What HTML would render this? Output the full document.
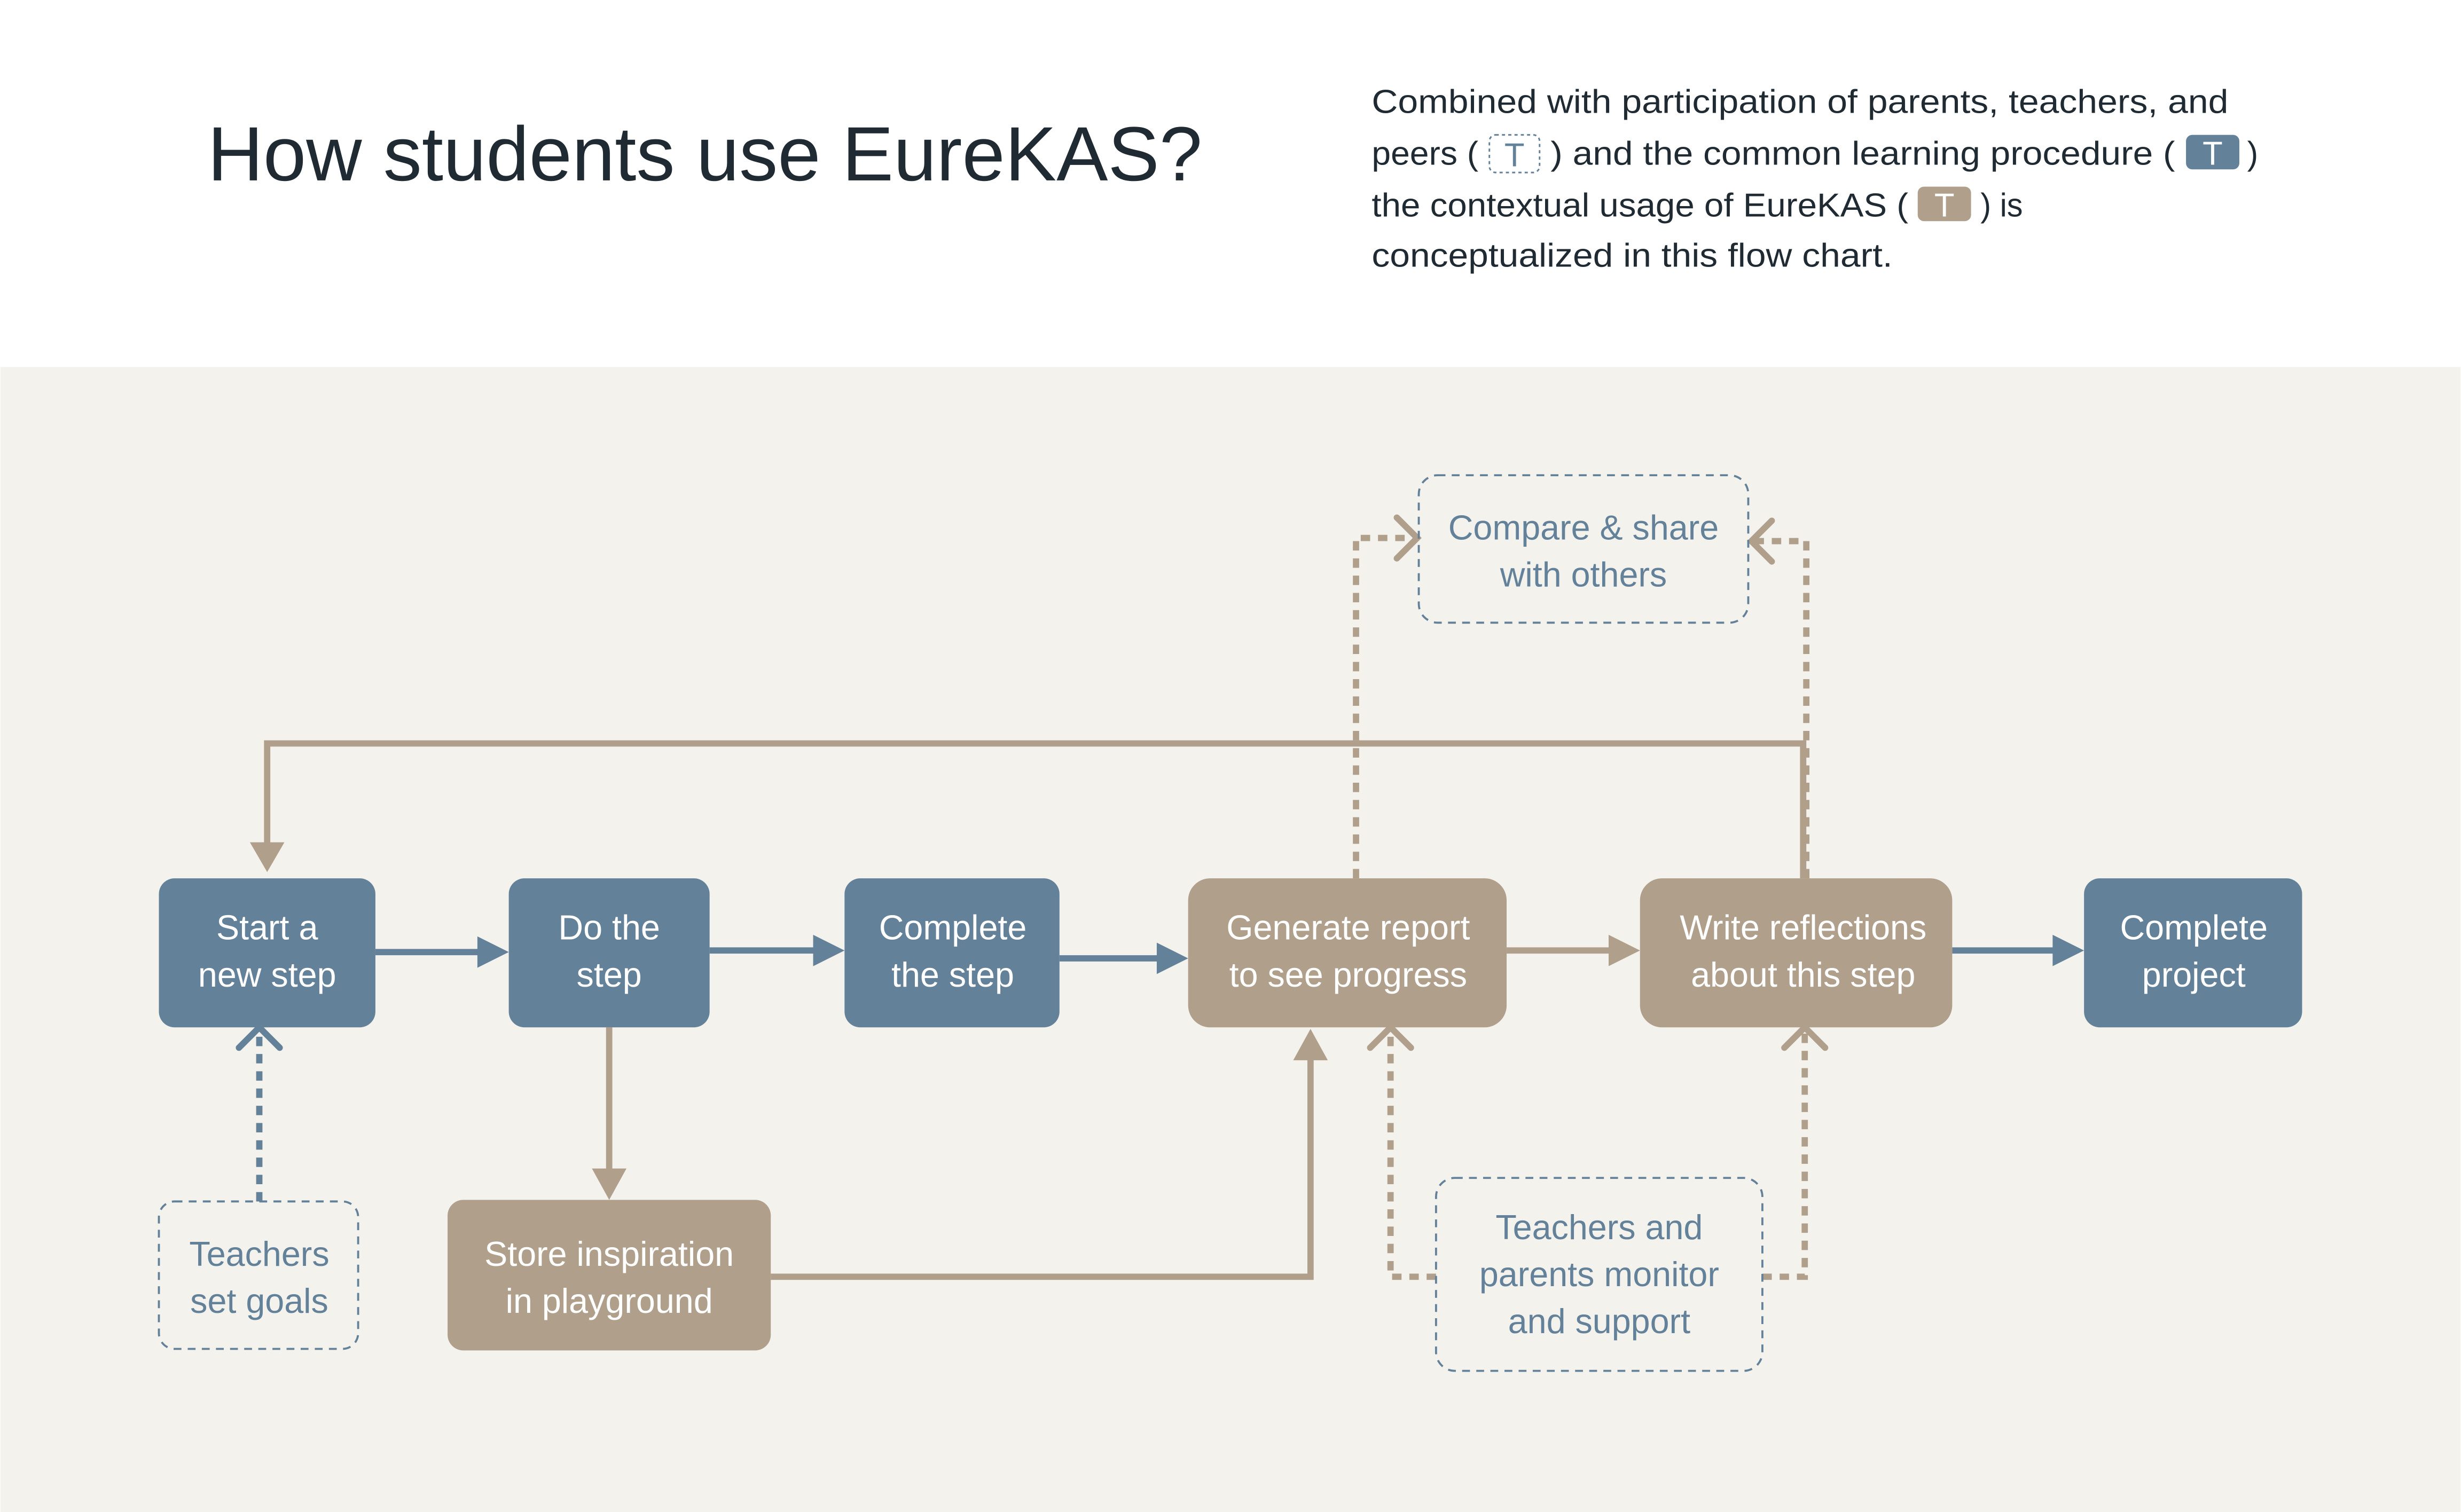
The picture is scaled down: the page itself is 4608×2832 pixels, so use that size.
<!DOCTYPE html>
<html><head><style>html,body{margin:0;padding:0;background:#fff}svg{display:block}</style></head>
<body>
<svg xmlns="http://www.w3.org/2000/svg" width="4608" height="2832" viewBox="0 0 1568 964" font-family="Liberation Sans, sans-serif">
<rect x="0" y="0" width="1568" height="964" fill="#fff"/>
<rect x="0" y="234" width="1568" height="730" fill="#f3f2ed"/>
<text x="132" y="115" font-size="49" fill="#1f2a33" textLength="634" lengthAdjust="spacingAndGlyphs">How students use EureKAS?</text>
<g font-size="21" fill="#1f2a33">
<text x="874" y="72" textLength="546" lengthAdjust="spacingAndGlyphs">Combined with participation of parents, teachers, and</text>
<text x="874" y="105" textLength="68" lengthAdjust="spacingAndGlyphs">peers (</text>
<rect x="949" y="86" width="32" height="24" rx="4" fill="none" stroke="#64819a" stroke-dasharray="2 2"/>
<text x="965" y="106" text-anchor="middle" fill="#64819a">T</text>
<text x="988" y="105" textLength="398" lengthAdjust="spacingAndGlyphs">) and the common learning procedure (</text>
<rect x="1393" y="86" width="34" height="22" rx="4" fill="#64819a"/>
<text x="1410" y="105" text-anchor="middle" fill="#fff">T</text>
<text x="1432" y="105">)</text>
<text x="874" y="138" textLength="342" lengthAdjust="spacingAndGlyphs">the contextual usage of EureKAS (</text>
<rect x="1222" y="119" width="34" height="22" rx="4" fill="#b09f8b"/>
<text x="1239" y="138" text-anchor="middle" fill="#fff">T</text>
<text x="1262" y="138" textLength="27" lengthAdjust="spacingAndGlyphs">) is</text>
<text x="874" y="170" textLength="332" lengthAdjust="spacingAndGlyphs">conceptualized in this flow chart.</text>
</g>
<g stroke-width="4" fill="none">
<path d="M1149 560 V474 H170 V540" stroke="#b09f8b"/>
<path d="M159 537 L170 556 L181 537z" fill="#b09f8b" stroke="none"/>
<path d="M239 607 H306" stroke="#64819a"/><path d="M304 597 L324 607 L304 617z" fill="#64819a" stroke="none"/>
<path d="M452 606 H520" stroke="#64819a"/><path d="M518 596 L538 606 L518 616z" fill="#64819a" stroke="none"/>
<path d="M675 611 H740" stroke="#64819a"/><path d="M737 601 L757 611 L737 621z" fill="#64819a" stroke="none"/>
<path d="M960 606 H1028" stroke="#b09f8b"/><path d="M1025 596 L1045 606 L1025 616z" fill="#b09f8b" stroke="none"/>
<path d="M1244 606 H1311" stroke="#64819a"/><path d="M1308 596 L1328 606 L1308 616z" fill="#64819a" stroke="none"/>
<path d="M388 655 V748" stroke="#b09f8b"/><path d="M377 745 L388 765 L399 745z" fill="#b09f8b" stroke="none"/>
<path d="M491 814 H835 V674" stroke="#b09f8b"/><path d="M824 676 L835 656 L846 676z" fill="#b09f8b" stroke="none"/>
<path d="M864 560 V343 H902" stroke="#b09f8b" stroke-dasharray="6 5"/>
<path d="M890 330 L903 343 L890 356" stroke="#b09f8b" stroke-linecap="round"/>
<path d="M1151 560 V345 H1116" stroke="#b09f8b" stroke-dasharray="6 5"/>
<path d="M1129 332 L1116 345 L1129 358" stroke="#b09f8b" stroke-linecap="round"/>
<path d="M165 766 V658" stroke="#64819a" stroke-dasharray="6 5"/>
<path d="M152 668 L165 655 L178 668" stroke="#64819a" stroke-linecap="round"/>
<path d="M915 814 H886 V658" stroke="#b09f8b" stroke-dasharray="6 5"/>
<path d="M873 668 L886 655 L899 668" stroke="#b09f8b" stroke-linecap="round"/>
<path d="M1123 814 H1150 V658" stroke="#b09f8b" stroke-dasharray="6 5"/>
<path d="M1137 668 L1150 655 L1163 668" stroke="#b09f8b" stroke-linecap="round"/>
</g>
<g>
<rect x="101" y="560" width="138" height="95" rx="10" fill="#64819a"/>
<rect x="324" y="560" width="128" height="95" rx="10" fill="#64819a"/>
<rect x="538" y="560" width="137" height="95" rx="10" fill="#64819a"/>
<rect x="757" y="560" width="203" height="95" rx="14" fill="#b09f8b"/>
<rect x="1045" y="560" width="199" height="95" rx="14" fill="#b09f8b"/>
<rect x="1328" y="560" width="139" height="95" rx="10" fill="#64819a"/>
<rect x="285" y="765" width="206" height="96" rx="10" fill="#b09f8b"/>
<rect x="101" y="766" width="127" height="94" rx="10" fill="none" stroke="#64819a" stroke-width="1.3" stroke-dasharray="5 4"/>
<rect x="904" y="303" width="210" height="94" rx="12" fill="none" stroke="#64819a" stroke-width="1.3" stroke-dasharray="5 4"/>
<rect x="915" y="751" width="208" height="123" rx="12" fill="none" stroke="#64819a" stroke-width="1.3" stroke-dasharray="5 4"/>
</g>
<g font-size="22" fill="#fff" text-anchor="middle">
<text x="170" y="599">Start a</text><text x="170" y="629">new step</text>
<text x="388" y="599">Do the</text><text x="388" y="629">step</text>
<text x="607" y="599">Complete</text><text x="607" y="629">the step</text>
<text x="859" y="599">Generate report</text><text x="859" y="629">to see progress</text>
<text x="1149" y="599">Write reflections</text><text x="1149" y="629">about this step</text>
<text x="1398" y="599">Complete</text><text x="1398" y="629">project</text>
<text x="388" y="807">Store inspiration</text><text x="388" y="837">in playground</text>
</g>
<g font-size="22" fill="#64819a" text-anchor="middle">
<text x="165" y="807">Teachers</text><text x="165" y="837">set goals</text>
<text x="1009" y="344">Compare &amp; share</text><text x="1009" y="374">with others</text>
<text x="1019" y="790">Teachers and</text><text x="1019" y="820">parents monitor</text><text x="1019" y="850">and support</text>
</g>
</svg>
</body></html>
